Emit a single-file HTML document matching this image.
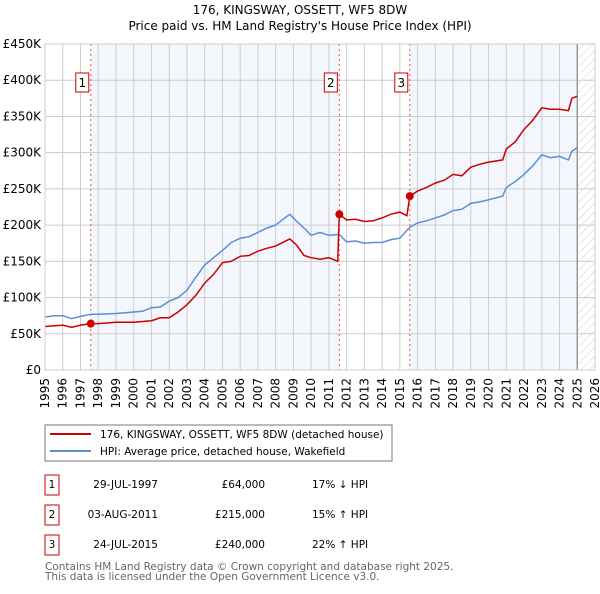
<!DOCTYPE html>
<html><head><meta charset="utf-8"><style>
body{margin:0;background:#fff;font-family:"DejaVu Sans","Liberation Sans",sans-serif;}
svg text{font-family:"DejaVu Sans","Liberation Sans",sans-serif;}
</style></head><body>
<svg id="c" width="600" height="590" xmlns="http://www.w3.org/2000/svg">
<defs><pattern id="h" width="6" height="6" patternUnits="userSpaceOnUse" patternTransform="rotate(45)"><line x1="0" y1="0" x2="0" y2="6" stroke="#ccc" stroke-width="1"/></pattern></defs>
<text x="300" y="14" text-anchor="middle" font-size="12">176, KINGSWAY, OSSETT, WF5 8DW</text>
<text x="300" y="30" text-anchor="middle" font-size="12">Price paid vs. HM Land Registry's House Price Index (HPI)</text>
<g id="plot"></g>
<rect x="45" y="425" width="347" height="36" fill="#fff" stroke="#777" stroke-width="1"/>
<line x1="50" y1="434" x2="91" y2="434" stroke="#cc0000" stroke-width="2"/>
<text x="100" y="438" font-size="10.5">176, KINGSWAY, OSSETT, WF5 8DW (detached house)</text>
<line x1="50" y1="451" x2="91" y2="451" stroke="#5b8fd1" stroke-width="2"/>
<text x="100" y="455" font-size="10.5">HPI: Average price, detached house, Wakefield</text>
<g id="tbl" font-size="10.5"></g>
<text x="45" y="570" font-size="10.5" fill="#666">Contains HM Land Registry data © Crown copyright and database right 2025.</text>
<text x="45" y="580" font-size="10.5" fill="#666">This data is licensed under the Open Government Licence v3.0.</text>
</svg>
<script>
const hpiDates=[1995,1995.5,1996,1996.5,1997,1997.58,1998,1999,2000,2000.5,2001,2001.5,2002,2002.5,2003,2003.5,2004,2004.5,2005,2005.5,2006,2006.5,2007,2007.5,2008,2008.8,2009.2,2009.6,2010,2010.5,2011,2011.59,2012,2012.5,2013,2013.5,2014,2014.5,2015,2015.56,2016,2016.5,2017,2017.5,2018,2018.5,2019,2019.5,2020,2020.8,2021,2021.5,2022,2022.5,2023,2023.5,2024,2024.5,2024.7,2025];
const hpiValues=[73,75,75,71,74,77,77,78,80,81,86,87,95,100,110,128,145,155,165,176,182,184,190,196,200,215,205,196,186,190,186,187,177,178,175,176,176,180,182,197,203,206,210,214,220,222,230,232,235,240,252,260,270,282,297,293,295,290,302,307];
const priceDates=[1995,1996,1996.5,1997,1997.58,1998,1999,2000,2000.5,2001,2001.5,2002,2002.5,2003,2003.5,2004,2004.5,2005,2005.5,2006,2006.5,2007,2007.5,2008,2008.8,2009.2,2009.6,2010,2010.5,2011,2011.5,2011.59,2012,2012.5,2013,2013.5,2014,2014.5,2015,2015.4,2015.56,2016,2016.5,2017,2017.5,2018,2018.5,2019,2019.5,2020,2020.8,2021,2021.5,2022,2022.5,2023,2023.5,2024,2024.5,2024.7,2025];
const priceValues=[60,62,59,62,64,64,66,66,67,68,72,72,80,90,103,120,132,148,150,157,158,164,168,171,181,172,158,155,153,155,150,215,207,208,205,206,210,215,218,213,240,247,252,258,262,270,268,280,284,287,290,305,315,332,345,362,360,360,358,375,378];
const saleDates=[1997.58,2011.59,2015.56];
const salePrices=[64,215,240];
const saleLabels=["1","2","3"];
const yTicks=[0,50,100,150,200,250,300,350,400,450];
const yTickLabels=["£0","£50K","£100K","£150K","£200K","£250K","£300K","£350K","£400K","£450K"];
const xTicks=[1995,1996,1997,1998,1999,2000,2001,2002,2003,2004,2005,2006,2007,2008,2009,2010,2011,2012,2013,2014,2015,2016,2017,2018,2019,2020,2021,2022,2023,2024,2025,2026];
const tableDates=["29-JUL-1997","03-AUG-2011","24-JUL-2015"];
const tablePrices=["£64,000","£215,000","£240,000"];
const tableHpi=["17% ↓ HPI","15% ↑ HPI","22% ↑ HPI"];
const X0=45,X1=595,Y0=370,Y1=44;
const xs=d=>X0+(d-1995)/(2026-1995)*(X1-X0);
const ys=v=>Y0-v/450*(Y0-Y1);
const NS="http://www.w3.org/2000/svg";
const plot=document.getElementById('plot');
function mk(t,a,p){const e=document.createElementNS(NS,t);for(const k in a)e.setAttribute(k,a[k]);(p||plot).appendChild(e);return e;}
let r;
r=mk('rect',{x:xs(saleDates[0]),y:Y1,width:xs(saleDates[1])-xs(saleDates[0]),height:Y0-Y1,fill:'#f3f6fd'});


r=mk('rect',{x:xs(saleDates[2]),y:Y1,width:xs(2025)-xs(saleDates[2]),height:Y0-Y1,fill:'#f3f6fd'});


r=mk('rect',{x:xs(2025),y:Y1,width:xs(2026)-xs(2025),height:Y0-Y1,fill:'url(#h)'});


xTicks.forEach(t=>{const l=mk('line',{x1:xs(t),x2:xs(t),y1:Y1,y2:Y0,stroke:'#ccc','stroke-width':1});


const tx=mk('text',{x:0,y:0,'font-size':12,'text-anchor':'end',transform:`translate(${xs(t)+4},${Y0+8}) rotate(-90)`});tx.textContent=t;

});
yTicks.forEach((t,i)=>{const l=mk('line',{x1:X0,x2:X1,y1:ys(t),y2:ys(t),stroke:'#ccc','stroke-width':1});


const tx=mk('text',{x:X0-4,y:ys(t)+4,'font-size':12,'text-anchor':'end'});tx.textContent=yTickLabels[i];

});
r=mk('line',{x1:xs(2025),x2:xs(2025),y1:Y1,y2:Y0,stroke:'#999','stroke-width':1.5});


saleDates.forEach((d,i)=>{const l=mk('line',{x1:xs(d),x2:xs(d),y1:Y1,y2:Y0,stroke:'#e05555','stroke-width':1,'stroke-dasharray':'2,3'});


const b=mk('rect',{x:xs(d)-15,y:73,width:13,height:19,fill:'#fff',stroke:'#cc0000','stroke-width':1});


const tx=mk('text',{x:xs(d)-8.5,y:87,'font-size':12,'text-anchor':'middle'});tx.textContent=saleLabels[i];

});
const pth=(D,V)=>D.map((d,i)=>(i?'L':'M')+xs(d).toFixed(1)+','+ys(V[i]).toFixed(1)).join('');
r=mk('path',{d:pth(hpiDates,hpiValues),fill:'none',stroke:'#5b8fd1','stroke-width':1.5});


r=mk('path',{d:pth(priceDates,priceValues),fill:'none',stroke:'#cc0000','stroke-width':1.5});


saleDates.forEach((d,i)=>{const c=mk('circle',{cx:xs(d),cy:ys(salePrices[i]),r:4,fill:'#cc0000'});

});
r=mk('rect',{x:X0,y:Y1,width:X1-X0,height:Y0-Y1,fill:'none',stroke:'#ccc','stroke-width':1});


const tbl=document.getElementById('tbl');
[475,505,535].forEach((y,i)=>{const b=mk('rect',{x:45,y:y,width:14,height:20,fill:'#fff',stroke:'#cc0000','stroke-width':1},tbl);


const n=mk('text',{x:52,y:y+13,'text-anchor':'middle'},tbl);n.textContent=saleLabels[i];


const a=mk('text',{x:158,y:y+13,'text-anchor':'end'},tbl);a.textContent=tableDates[i];


const p=mk('text',{x:265,y:y+13,'text-anchor':'end'},tbl);p.textContent=tablePrices[i];


const h=mk('text',{x:312,y:y+13},tbl);h.textContent=tableHpi[i];

});
</script>
</body></html>
